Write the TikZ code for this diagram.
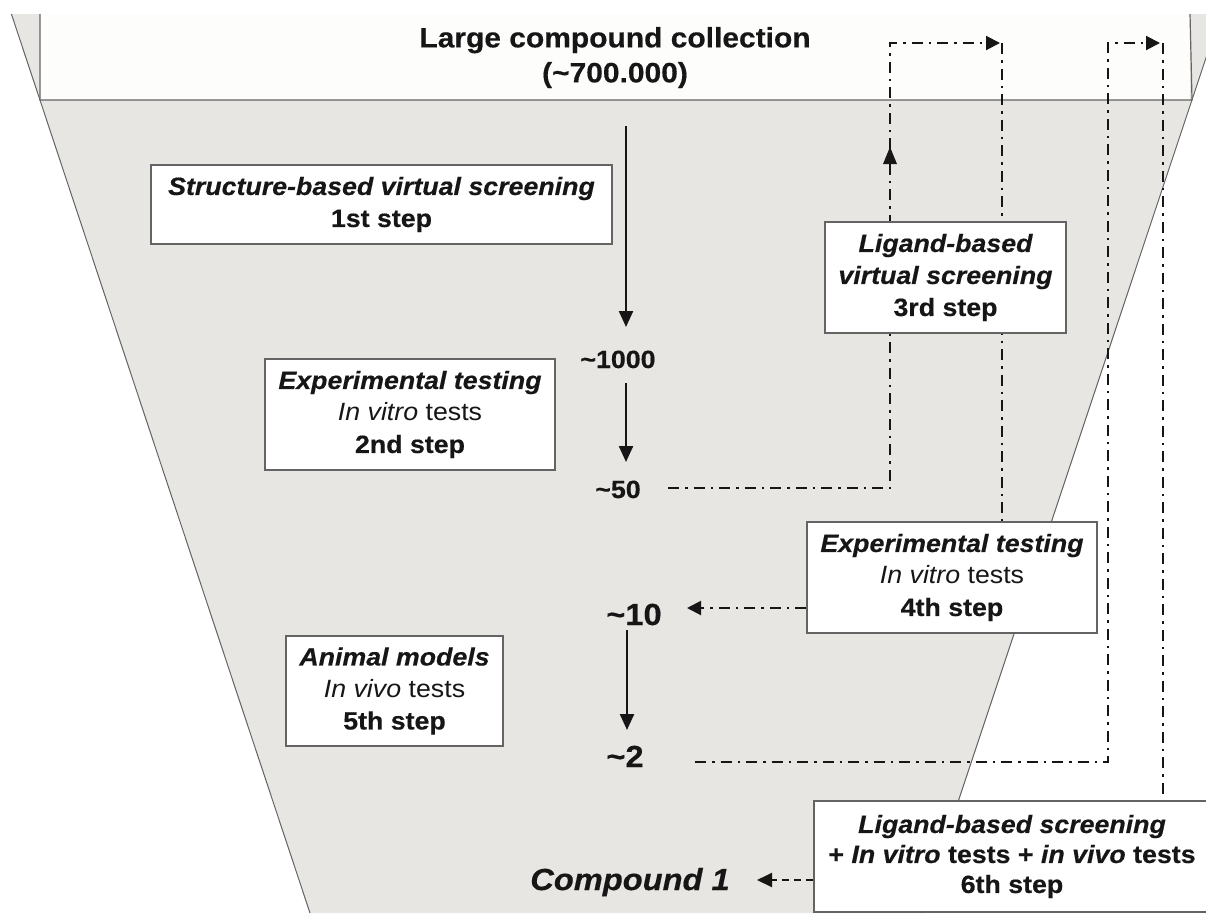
\documentclass[tikz,border=0pt]{standalone}
\usepackage{fontspec}
\setmainfont[FakeStretch=1.07,BoldFeatures={FakeBold=0.4},BoldItalicFeatures={FakeBold=0.4}]{Liberation Sans}
\usetikzlibrary{arrows.meta}
\definecolor{funnelgray}{RGB}{232,230,226}
\definecolor{edgegray}{RGB}{100,100,100}
\definecolor{ink}{RGB}{22,22,22}
\definecolor{topwhite}{RGB}{253,253,252}
\newcommand{\tl}{\textasciitilde}
\begin{document}
\begin{tikzpicture}[x=1pt,y=-1pt,
  stepbox/.style={draw=edgegray,line width=1.3pt,fill=white,inner sep=0pt,align=center,text=ink,
    font={\fontsize{25}{32}\selectfont}},
  numlabel/.style={anchor=base,inner sep=0pt,text=ink,font={\fontsize{25}{28}\selectfont\bfseries}},
  biglabel/.style={anchor=base,inner sep=0pt,text=ink,font={\fontsize{30.5}{34}\selectfont\bfseries}},
  solidarrow/.style={draw=ink,line width=2.3pt,-{Triangle[length=16pt,width=14pt]}},
  dashdot/.style={draw=ink,line width=2pt,dash pattern=on 11pt off 6pt on 2.5pt off 6pt},
  ddarrow/.style={dashdot,-{Triangle[length=14pt,width=14pt]}},
  dasharrow/.style={draw=ink,line width=2pt,dash pattern=on 7pt off 5pt,-{Triangle[length=15pt,width=14pt]}}
]
\useasboundingbox (0,0) rectangle (1206,913);
\clip (0,0) rectangle (1206,913);
% funnel
\fill[funnelgray] (11.4,14) -- (1220.6,14) -- (921,913) -- (310,913) -- cycle;
\draw[edgegray,line width=1pt] (11.4,14) -- (310,913);
\draw[edgegray,line width=1pt] (1220.6,14) -- (921,913);
% top collection area
\fill[topwhite] (40,14) rectangle (1190,100);
\draw[edgegray,line width=1.2pt] (40,14) -- (40,100) -- (1192,100) -- (1190,14);
\node[inner sep=0pt,align=center,text=ink,font={\fontsize{28}{35}\selectfont\bfseries}] (title) at (615,57.6)
  {Large compound collection\\(\tl700.000)};

% coordinates for connectors
\coordinate (a1s) at (626,126);
\coordinate (a1e) at (626,327);
\coordinate (a2s) at (626,383);
\coordinate (a2e) at (626,462);
\coordinate (a3s) at (627,630);
\coordinate (a3e) at (627,730);
\coordinate (pa0) at (668,488);
\coordinate (pa1) at (890,488);
\coordinate (pa2) at (890,43);
\coordinate (pa3) at (1000,43);
\coordinate (pa4) at (1002,43);
\coordinate (pb0) at (695,762);
\coordinate (pb1) at (1108,762);
\coordinate (pb2) at (1108,43);
\coordinate (pb3) at (1160,43);
\coordinate (pb4) at (1163,43);

% number labels
\node[numlabel] (n1000) at (618,368) {\tl1000};
\node[numlabel] (n50) at (618,498) {\tl50};
\node[biglabel] (n10) at (634,625) {\tl10};
\node[biglabel] (n2) at (625,767) {\tl2};
\node[biglabel,font={\fontsize{30.5}{34}\selectfont\bfseries\itshape}] (cmpd) at (630,890) {Compound 1};

% connectors (drawn before boxes so boxes hide them)
\draw[solidarrow] (a1s) -- (a1e);
\draw[solidarrow] (a2s) -- (a2e);
\draw[solidarrow] (a3s) -- (a3e);
\draw[ddarrow] (pa0) -- (pa1) -- (pa2) -- (pa3);
\fill[ink] (890,147) -- (883,164) -- (897,164) -- cycle;
\draw[dashdot] (pa4) -- (1002,522);
\draw[ddarrow] (pb0) -- (pb1) -- (pb2) -- (pb3);
\draw[dashdot] (pb4) -- (1163,801);

% boxes
\node[stepbox,minimum width=461pt,minimum height=79pt] (s1) at (381.5,204.5)
  {{\bfseries\itshape Structure-based virtual screening}\\{\bfseries 1st step}};
\node[stepbox,minimum width=290pt,minimum height=111pt] (s2) at (410,414.5)
  {{\bfseries\itshape Experimental testing}\\{\itshape In vitro} tests\\{\bfseries 2nd step}};
\node[stepbox,minimum width=241pt,minimum height=111pt] (s3) at (945.5,277.5)
  {{\bfseries\itshape Ligand-based}\\{\bfseries\itshape virtual screening}\\{\bfseries 3rd step}};
\node[stepbox,minimum width=290pt,minimum height=111pt] (s4) at (952,577.5)
  {{\bfseries\itshape Experimental testing}\\{\itshape In vitro} tests\\{\bfseries 4th step}};
\node[stepbox,minimum width=217pt,minimum height=110pt] (s5) at (394.5,691)
  {{\bfseries\itshape Animal models}\\{\itshape In vivo} tests\\{\bfseries 5th step}};
\node[stepbox,minimum width=396pt,minimum height=111pt,font={\fontsize{25}{30}\selectfont\bfseries}] (s6) at (1012,856.5)
  {{\itshape Ligand-based screening}\\+ {\itshape In vitro} tests + {\itshape in vivo} tests\\6th step};

% arrows from boxes
\draw[ddarrow] (s4.west |- 0,608) -- (687,608);
\draw[dasharrow] (s6.west |- 0,880) -- (757,880);
\end{tikzpicture}
\end{document}
